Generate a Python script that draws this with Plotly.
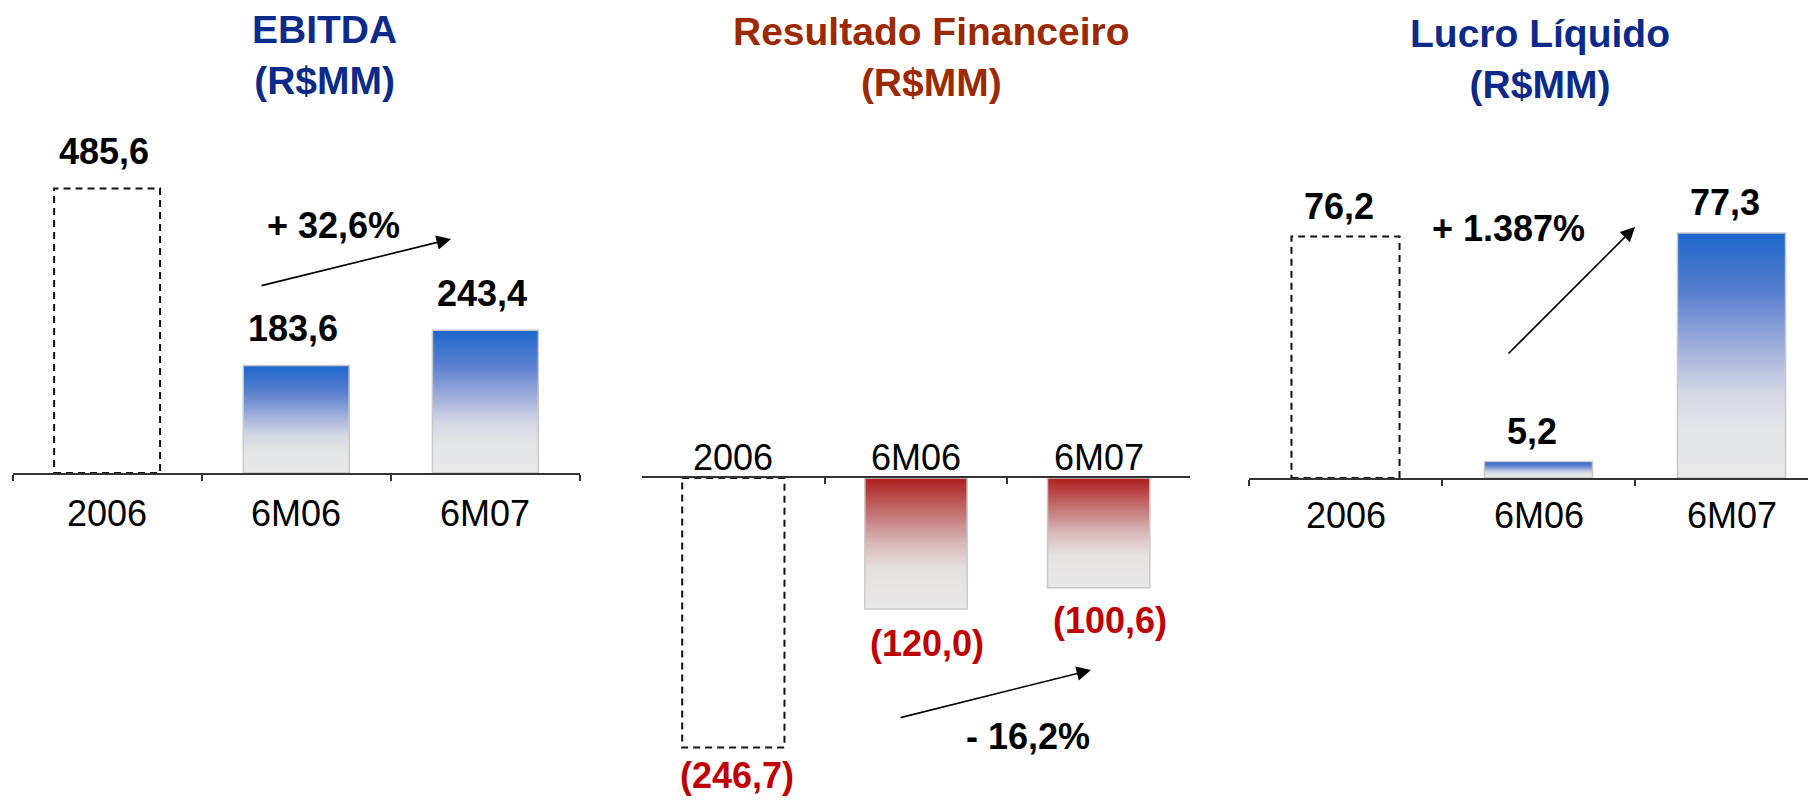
import plotly.graph_objects as go

# ---------------- data ----------------
categories = ["2006", "6M06", "6M07"]
ebitda = [485.6, 183.6, 243.4]
resultado = [-246.7, -120.0, -100.6]
lucro = [76.2, 5.2, 77.3]
titles = ["EBITDA<br>(R$MM)", "Resultado Financeiro<br>(R$MM)", "Lucro Líquido<br>(R$MM)"]

# ---------------- style ----------------
W, H = 1816, 800
OFF = 8  # page body margin offset (screen px = figure px + OFF)
FONT = "Liberation Sans, Arial, sans-serif"
NAVY = "#0B2A8A"
BROWN = "#9B2A00"
RED = "#C00000"
BAR_W = 0.56
BLUE_SCALE = [[0, "#E8E8E8"], [0.2, "#E4E5E8"], [0.35, "#D3D7E4"], [0.5, "#AAB5DD"],
              [0.75, "#5B80CF"], [1, "#1D66CC"]]
RED_SCALE = [[0, "#E8E8E8"], [0.3, "#E6E1E1"], [0.5, "#D9B9B9"], [0.7, "#C57C7C"],
             [1, "#B01E1E"]]


def px_x(p):
    return (p - OFF) / W


def px_y(p):
    return 1 - (p - OFF) / H


def fmt(v):
    s = f"{abs(v):.1f}".replace(".", ",")
    return f"({s})" if v < 0 else s


def fmt_pct(a, b):
    p = (b / a - 1) * 100
    sign = "+" if p >= 0 else "-"
    p = abs(p)
    if p >= 100:
        s = f"{p:,.0f}".replace(",", ".")
    else:
        s = f"{p:.1f}".replace(".", ",")
    return f"{sign} {s}%"


# panel geometry in screen pixels
panels = [
    dict(values=ebitda, xl=12.5, xr=580, base=473, scale=0.586, top=100, bottom=473,
         title_xy=(324, 55), title_color=NAVY, lab_dy=-40, val_dy=37, val_dx=-3,
         pct_xy=(333, 226), arrow=((260, 286), (451, 239)), neg=False),
    dict(values=resultado, xl=642, xr=1190, base=478, scale=1.092, top=478, bottom=800,
         title_xy=(931, 57), title_color=BROWN, lab_dy=21, val_dy=-28, val_dx=4,
         pct_xy=(1028, 736), arrow=((899, 718), (1091, 670)), neg=True),
    dict(values=lucro, xl=1249, xr=1828, base=478, scale=3.17,
         top=100, bottom=478, title_xy=(1540, 59), title_color=NAVY, lab_dy=-37, val_dy=30,
         val_dx=-7, pct_xy=(1508, 228), arrow=((1507, 355), (1635, 227)), neg=False),
]

fig = go.Figure()
annotations = []
layout_axes = {}

for k, p in enumerate(panels):
    n = k + 1
    xa = "x" if n == 1 else f"x{n}"
    ya = "y" if n == 1 else f"y{n}"
    vals = p["values"]

    if p["neg"]:
        yrange = [-(p["bottom"] - p["base"]) / p["scale"], 0]
    else:
        yrange = [0, (p["base"] - p["top"]) / p["scale"]]

    xr_vis = min(W + OFF, p["xr"])
    xmax = -0.5 + 3 * (xr_vis - p["xl"]) / (p["xr"] - p["xl"])

    for i, v in enumerate(vals):
        xs = [i - BAR_W / 2, i + BAR_W / 2, i + BAR_W / 2, i - BAR_W / 2, i - BAR_W / 2]
        ys = [0, 0, v, v, 0]
        if i == 0:
            fig.add_trace(go.Scatter(x=xs, y=ys, mode="lines", xaxis=xa, yaxis=ya,
                                     line=dict(color="#111111", width=2, dash="7px,5px"),
                                     hoverinfo="skip", showlegend=False))
        else:
            fig.add_trace(go.Scatter(x=xs, y=ys, mode="lines", fill="toself", xaxis=xa, yaxis=ya,
                                     fillgradient=dict(type="vertical",
                                                       colorscale=RED_SCALE if p["neg"] else BLUE_SCALE),
                                     line=dict(color="#C8C8C8", width=1.5),
                                     hoverinfo="skip", showlegend=False))
        dy = p["val_dy"]
        if p["neg"] and i == 1:
            dy = -34
        if p["neg"] and i == 2:
            dy = -33
        annotations.append(dict(x=i, y=v, xref=xa, yref=ya, text=f"<b>{fmt(v)}</b>",
                                showarrow=False, yshift=dy,
                                xshift=p["val_dx"] + (7 if (p["neg"] and i > 0) else 0),
                                font=dict(family=FONT, size=36, color=RED if p["neg"] else "#000000")))

    for i, c in enumerate(categories):
        annotations.append(dict(x=i, y=0, xref=xa, yref=ya, text=c, showarrow=False,
                                yshift=p["lab_dy"], font=dict(family=FONT, size=36, color="#000000")))

    annotations.append(dict(x=px_x(p["title_xy"][0]), y=px_y(p["title_xy"][1]), xref="paper", yref="paper",
                            text=f"<b>{titles[k]}</b>", showarrow=False, xanchor="center", yanchor="middle",
                            font=dict(family=FONT, size=39, color=p["title_color"])))

    annotations.append(dict(x=px_x(p["pct_xy"][0]), y=px_y(p["pct_xy"][1]), xref="paper", yref="paper",
                            text=f"<b>{fmt_pct(vals[1], vals[2])}</b>", showarrow=False,
                            xanchor="center", yanchor="middle",
                            font=dict(family=FONT, size=36, color="#000000")))
    (sx, sy), (ex, ey) = p["arrow"]
    annotations.append(dict(x=px_x(ex), y=px_y(ey), xref="paper", yref="paper", text="",
                            showarrow=True, ax=sx - ex, ay=sy - ey, axref="pixel", ayref="pixel",
                            arrowhead=2, arrowsize=1.8, arrowwidth=1.6, arrowcolor="#000000", standoff=0))

    xkey = "xaxis" if n == 1 else f"xaxis{n}"
    ykey = "yaxis" if n == 1 else f"yaxis{n}"
    layout_axes[xkey] = dict(domain=[px_x(p["xl"]), min(1, px_x(p["xr"]))], range=[-0.5, xmax],
                             anchor=ya, side="top" if p["neg"] else "bottom",
                             showgrid=False, zeroline=False, showline=True, linecolor="#333333",
                             linewidth=1.5, tickvals=[-0.5, 0.5, 1.5, 2.5], showticklabels=False,
                             ticks="inside" if p["neg"] else "outside", ticklen=6, tickwidth=1.5,
                             tickcolor="#333333", fixedrange=True)
    layout_axes[ykey] = dict(domain=[max(0, px_y(p["bottom"])), px_y(p["top"])], range=yrange, anchor=xa,
                             visible=False, showgrid=False, zeroline=False, fixedrange=True)

fig.update_layout(width=W, height=H, margin=dict(l=0, r=0, t=0, b=0),
                  paper_bgcolor="white", plot_bgcolor="white", showlegend=False,
                  annotations=annotations, **layout_axes)

fig.write_html("out.html")
